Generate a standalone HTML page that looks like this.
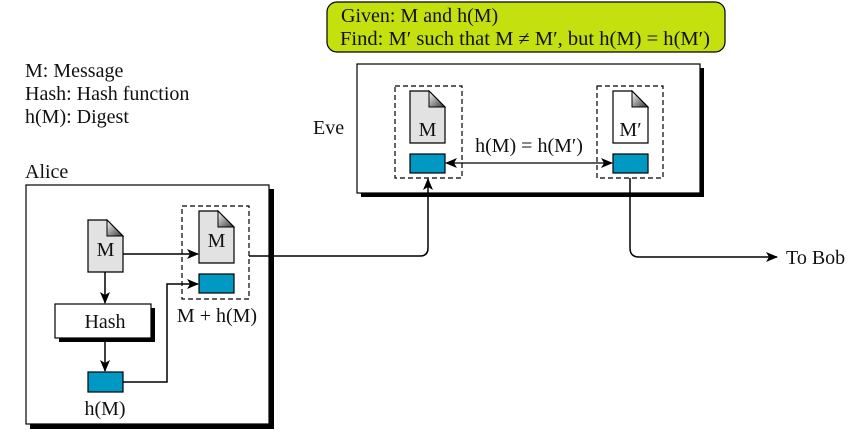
<!DOCTYPE html>
<html><head><meta charset="utf-8"><style>
html,body{margin:0;padding:0;background:#fff;}
svg text{font-family:"Liberation Serif",serif;fill:#111;}
</style></head><body>
<svg width="868" height="439" viewBox="0 0 868 439" xmlns="http://www.w3.org/2000/svg">
<defs>
<marker id="ah" markerWidth="12" markerHeight="10" refX="11" refY="5" orient="auto" markerUnits="userSpaceOnUse">
<path d="M0,0 L12,5 L0,10 L3,5 Z" fill="#000"/></marker>
<marker id="ahs" markerWidth="12" markerHeight="10" refX="1" refY="5" orient="auto" markerUnits="userSpaceOnUse">
<path d="M12,0 L0,5 L12,10 L9,5 Z" fill="#000"/></marker>
<linearGradient id="fold" x1="0" y1="0" x2="1" y2="1"><stop offset="0" stop-color="#fff"/><stop offset="1" stop-color="#333"/></linearGradient>
<g id="docg"><path d="M0,0 H19 L35,16 V52 H0 Z" fill="#e2e2e2" stroke="#000" stroke-width="1.2"/><path d="M19,0 V16 H35 Z" fill="url(#fold)" stroke="#000" stroke-width="1"/></g>
<g id="docw"><path d="M0,0 H19 L35,16 V52 H0 Z" fill="#fff" stroke="#000" stroke-width="1.2"/><path d="M19,0 V16 H35 Z" fill="url(#fold)" stroke="#000" stroke-width="1"/></g>
</defs>

<!-- callout -->
<rect x="327" y="2" width="398" height="50" rx="10" fill="#c4e00e" stroke="#000" stroke-width="1.2"/>
<text x="341" y="22" font-size="20">Given: M and h(M)</text>
<text x="340" y="45" font-size="20" textLength="370" lengthAdjust="spacingAndGlyphs">Find: M′ such that M ≠ M′, but h(M) = h(M′)</text>

<!-- legend -->
<text x="25" y="77" font-size="20">M: Message</text>
<text x="25" y="100" font-size="20">Hash: Hash function</text>
<text x="25" y="123" font-size="20">h(M): Digest</text>

<!-- Alice -->
<text x="25" y="178" font-size="20">Alice</text>
<rect x="30" y="189" width="244" height="240" fill="#000"/>
<rect x="26" y="185" width="243" height="239" fill="#fff" stroke="#000" stroke-width="1.2"/>
<use href="#docg" x="88" y="220"/>
<text x="105.5" y="256" font-size="20" text-anchor="middle">M</text>
<line x1="123" y1="254" x2="198" y2="254" stroke="#000" stroke-width="1.5" marker-end="url(#ah)"/>
<rect x="182" y="206" width="67" height="93" fill="none" stroke="#000" stroke-width="1.2" stroke-dasharray="5,3"/>
<use href="#docg" x="199" y="211"/>
<text x="216.5" y="247" font-size="20" text-anchor="middle">M</text>
<rect x="199" y="274" width="35" height="19" fill="#0099c4" stroke="#000" stroke-width="1.2"/>
<text x="217" y="322" font-size="20" text-anchor="middle">M + h(M)</text>
<line x1="105" y1="272" x2="105" y2="303" stroke="#000" stroke-width="1.5" marker-end="url(#ah)"/>
<rect x="59" y="308" width="96" height="34" fill="#000"/>
<rect x="55" y="304" width="96" height="34" fill="#fff" stroke="#000" stroke-width="1.2"/>
<text x="105" y="328" font-size="20" text-anchor="middle">Hash</text>
<line x1="105" y1="338" x2="105" y2="371" stroke="#000" stroke-width="1.5" marker-end="url(#ah)"/>
<rect x="88" y="372" width="35" height="20" fill="#0099c4" stroke="#000" stroke-width="1.2"/>
<text x="105" y="415" font-size="20" text-anchor="middle">h(M)</text>
<path d="M123,382 H167 V284 H198" fill="none" stroke="#000" stroke-width="1.5" marker-end="url(#ah)"/>

<!-- Eve -->
<text x="313" y="134" font-size="20">Eve</text>
<rect x="361" y="68" width="343" height="129" fill="#000"/>
<rect x="357" y="64" width="343" height="129" fill="#fff" stroke="#000" stroke-width="1.2"/>
<rect x="395" y="86" width="67" height="92" fill="none" stroke="#000" stroke-width="1.2" stroke-dasharray="5,3"/>
<use href="#docg" x="410" y="91"/>
<text x="427.5" y="136" font-size="20" text-anchor="middle">M</text>
<rect x="410" y="154" width="35" height="19" fill="#0099c4" stroke="#000" stroke-width="1.2"/>
<rect x="597" y="86" width="66" height="92" fill="none" stroke="#000" stroke-width="1.2" stroke-dasharray="5,3"/>
<use href="#docw" x="613" y="91"/>
<text x="630.5" y="136" font-size="20" text-anchor="middle">M′</text>
<rect x="613" y="154" width="35" height="19" fill="#0099c4" stroke="#000" stroke-width="1.2"/>
<line x1="446" y1="163" x2="612" y2="163" stroke="#000" stroke-width="1.2" marker-start="url(#ahs)" marker-end="url(#ah)"/>
<text x="529" y="152" font-size="20" text-anchor="middle">h(M) = h(M′)</text>

<!-- connector Alice -> Eve -->
<path d="M249,256 H420 Q428,256 428,248 V179" fill="none" stroke="#000" stroke-width="1.5" marker-end="url(#ah)"/>

<!-- to Bob -->
<path d="M630,178 V248 Q630,257 639,257 H777" fill="none" stroke="#000" stroke-width="1.5" marker-end="url(#ah)"/>
<text x="786" y="264" font-size="20">To Bob</text>
</svg>
</body></html>
